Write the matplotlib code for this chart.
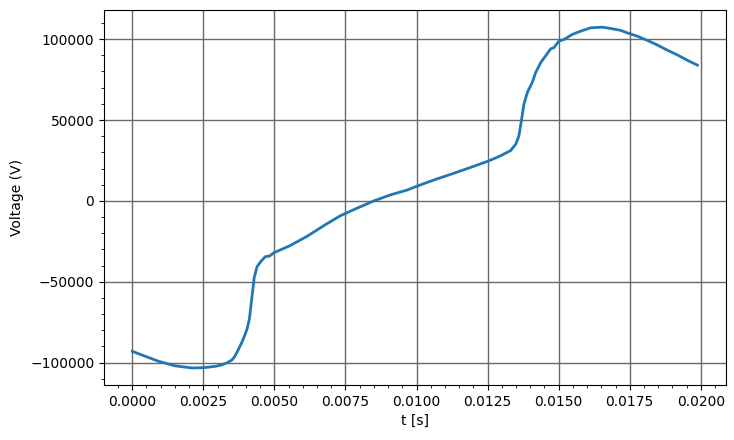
import matplotlib.pyplot as plt

# values
t = [0.0, 0.00046, 0.00093, 0.00151, 0.00210, 0.00252, 0.00292, 0.00315,
     0.00335, 0.00351, 0.00360, 0.00369, 0.00386, 0.00396, 0.00404, 0.00412,
     0.00429, 0.00439, 0.00452, 0.00468, 0.00483, 0.00498, 0.00556, 0.00615,
     0.00674, 0.00732, 0.00791, 0.00850, 0.00908, 0.00967, 0.01000, 0.01061,
     0.01120, 0.01179, 0.01251, 0.01296, 0.01331, 0.01349, 0.01360, 0.01369,
     0.01378, 0.01390, 0.01407, 0.01419, 0.01437, 0.01454, 0.01472, 0.01483,
     0.01501, 0.01519, 0.01548, 0.01577, 0.01613, 0.01654, 0.01683, 0.01718,
     0.01751, 0.01777, 0.01812, 0.01848, 0.01883, 0.01918, 0.01953, 0.01988]
voltage = [-93000, -96100, -99200, -102000, -103300, -103100, -102300, -101400,
           -100000, -98300, -96300, -93400, -87300, -83000, -79100, -73000,
           -47400, -40700, -37500, -34500, -34100, -32100, -27600, -21900,
           -15300, -9200, -4500, 0, 3700, 6700, 9000, 12900,
           16400, 20000, 24500, 27900, 31100, 35000, 40000, 49700,
           59900, 67100, 73200, 79300, 85500, 89600, 94000, 94700,
           98800, 99800, 102900, 104900, 107000, 107400, 106600, 105400,
           103300, 101800, 99200, 96300, 93100, 90200, 86900, 83900]

fig = plt.figure(figsize=(7.34, 4.4), dpi=100)
ax = fig.add_axes([0.1417, 0.125, 0.8469, 0.852])
ax.plot(t, voltage, color="#1f77b4", linewidth=2)
ax.minorticks_on()
ax.grid(True, which="major", color="dimgray", linewidth=1)
ax.set_xlabel("t [s]")
ax.set_ylabel("Voltage (V)")
fig.savefig("out.png", dpi=100)
